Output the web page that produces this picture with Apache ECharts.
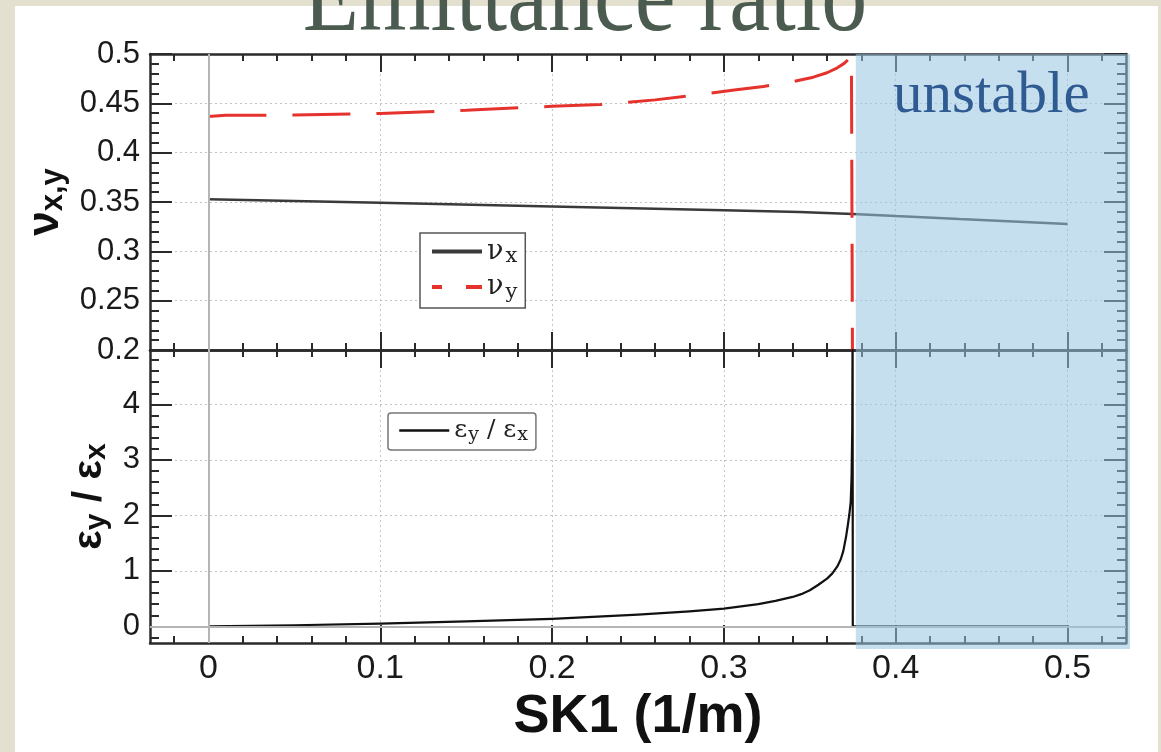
<!DOCTYPE html>
<html><head><meta charset="utf-8">
<script src="https://cdn.jsdelivr.net/npm/echarts@6/dist/echarts.min.js"></script>
<style>
html,body{margin:0;padding:0;width:1161px;height:752px;overflow:hidden;background:#e3e0cf;}
#panel{position:absolute;left:15px;top:6px;width:1143px;height:746px;background:#fff;}
#chart{position:absolute;left:0;top:0;width:1161px;height:752px;}
</style></head><body>
<div id="panel"></div><div id="chart"></div>
<script>
// ---------- data ----------
const X_MIN = -0.034, X_MAX = 0.534;
const xMajorTicks = [0, 0.1, 0.2, 0.3, 0.4, 0.5];
const xMinorTicks = [-0.02, 0.02, 0.04, 0.06, 0.08, 0.12, 0.14, 0.16, 0.18, 0.22, 0.24, 0.26, 0.28,
  0.32, 0.34, 0.36, 0.38, 0.42, 0.44, 0.46, 0.48, 0.52];
const yTopMin = 0.2, yTopMax = 0.5;
const yTopMajorTicks = [0.2, 0.25, 0.3, 0.35, 0.4, 0.45, 0.5];
const yTopMinorTicks = [0.21, 0.22, 0.23, 0.24, 0.26, 0.27, 0.28, 0.29, 0.31, 0.32, 0.33, 0.34,
  0.36, 0.37, 0.38, 0.39, 0.41, 0.42, 0.43, 0.44, 0.46, 0.47, 0.48, 0.49];
const yBotMin = -0.3, yBotMax = 4.98;
const yBotMajorTicks = [0, 1, 2, 3, 4];
const yBotMinorTicks = [-0.2, 0.2, 0.4, 0.6, 0.8, 1.2, 1.4, 1.6, 1.8, 2.2, 2.4, 2.6, 2.8,
  3.2, 3.4, 3.6, 3.8, 4.2, 4.4, 4.6, 4.8];

const sk1NuX = [0, 0.1, 0.2, 0.3, 0.344, 0.375, 0.4, 0.437, 0.478, 0.5];
const nuX    = [0.3527, 0.3492, 0.3455, 0.3417, 0.3398, 0.3378, 0.3357, 0.3327, 0.3296, 0.3276];

const sk1NuY = [0, 0.01, 0.05, 0.1, 0.15, 0.2, 0.228, 0.26, 0.286, 0.306, 0.323, 0.34, 0.352, 0.36, 0.366, 0.37, 0.3725, 0.3742, 0.375, 0.375];
const nuY    = [0.4367, 0.4378, 0.4382, 0.4398, 0.443, 0.447, 0.4488, 0.4535, 0.459, 0.4635, 0.467, 0.472, 0.4765, 0.481, 0.486, 0.4905, 0.4945, 0.4985, 0.5, 0.1];

const sk1Eps = [0, 0.05, 0.1, 0.15, 0.2, 0.25, 0.28, 0.3, 0.32, 0.33, 0.34, 0.345, 0.35, 0.355, 0.36, 0.363, 0.366, 0.368, 0.3695, 0.371, 0.372, 0.373, 0.3738, 0.3743, 0.3747, 0.3749, 0.375, 0.4, 0.45, 0.5];
const epsRatio = [0, 0.02, 0.05, 0.09, 0.135, 0.21, 0.27, 0.32, 0.40, 0.46, 0.53, 0.58, 0.65, 0.75, 0.86, 0.95, 1.08, 1.21, 1.36, 1.6, 1.8, 2.02, 2.25, 2.7, 3.6, 5.6, 0, 0, 0, 0];

const unstableFrom = 0.375;

const zip = (a, b) => a.map((v, i) => [v, b[i]]);

// ---------- styles ----------
const AX = '#2a2a2a';
const gridLine = { show: true, lineStyle: { color: '#c4c4c4', width: 1, type: [2, 3] } };
const sans = 'Liberation Sans';

function xAx(grid, pos, major, opts) {
  return Object.assign({
    type: 'value', gridIndex: grid, position: pos, min: X_MIN, max: X_MAX,
    axisLine: { show: major, onZero: false, lineStyle: { color: AX, width: 2.5 } },
    axisTick: { show: true, inside: true, length: major ? 18 : 7,
      customValues: major ? xMajorTicks : xMinorTicks, lineStyle: { color: AX, width: 2 } },
    axisLabel: { show: false, customValues: major ? xMajorTicks : xMinorTicks },
    splitLine: { show: false }
  }, opts || {});
}
function yAx(grid, pos, major, majT, minT, mn, mx, opts) {
  return Object.assign({
    type: 'value', gridIndex: grid, position: pos, min: mn, max: mx,
    axisLine: { show: major, onZero: false, lineStyle: { color: AX, width: 2.5 } },
    axisTick: { show: true, inside: true, length: major ? 22 : 9,
      customValues: major ? majT : minT, lineStyle: { color: AX, width: 2 } },
    axisLabel: { show: false, customValues: major ? majT : minT },
    splitLine: { show: false }
  }, opts || {});
}

const xLabelStyle = { show: true, customValues: xMajorTicks, color: '#1a1a1a', fontFamily: sans, fontSize: 34, margin: 9 };
const noSymbol = { color: 'transparent', borderColor: 'transparent', borderWidth: 0, opacity: 0 };

const option = {
  animation: false,
  grid: [
    { left: 150, top: 54, width: 976, height: 296 },
    { left: 150, top: 350, width: 976, height: 293 }
  ],
  xAxis: [
    xAx(0, 'bottom', true, { splitLine: gridLine }),
    xAx(0, 'bottom', false),
    xAx(0, 'top', true),
    xAx(0, 'top', false),
    xAx(1, 'bottom', true, {
      splitLine: gridLine, axisLabel: xLabelStyle,
      name: 'SK1 (1/m)', nameLocation: 'middle', nameGap: 47,
      nameTextStyle: { fontFamily: sans, fontWeight: 'bold', fontSize: 54, color: '#111' }
    }),
    xAx(1, 'bottom', false),
    xAx(1, 'top', true),
    xAx(1, 'top', false)
  ],
  yAxis: [
    yAx(0, 'left', true, yTopMajorTicks, yTopMinorTicks, yTopMin, yTopMax, {
      splitLine: gridLine,
      axisLabel: { show: true, customValues: yTopMajorTicks, color: '#1a1a1a', fontFamily: sans, fontSize: 31, margin: 10 },
      name: '{n|ν}{s|x,y}', nameLocation: 'middle', nameGap: 80, nameRotate: 90,
      nameTextStyle: { rich: {
        n: { fontFamily: sans, fontWeight: 'bold', fontSize: 44, color: '#111' },
        s: { fontFamily: sans, fontWeight: 'bold', fontSize: 31, color: '#111', padding: [14, 0, 0, 0] }
      } }
    }),
    yAx(0, 'left', false, yTopMajorTicks, yTopMinorTicks, yTopMin, yTopMax),
    yAx(0, 'right', true, yTopMajorTicks, yTopMinorTicks, yTopMin, yTopMax),
    yAx(0, 'right', false, yTopMajorTicks, yTopMinorTicks, yTopMin, yTopMax),
    yAx(1, 'left', true, yBotMajorTicks, yBotMinorTicks, yBotMin, yBotMax, {
      splitLine: gridLine,
      axisLabel: { show: true, customValues: yBotMajorTicks, color: '#1a1a1a', fontFamily: sans, fontSize: 31, margin: 10 },
      name: '{n|ε}{s|y}{n| / ε}{s|x}', nameLocation: 'middle', nameGap: 36, nameRotate: 90,
      nameTextStyle: { rich: {
        n: { fontFamily: sans, fontWeight: 'bold', fontSize: 41, color: '#111' },
        s: { fontFamily: sans, fontWeight: 'bold', fontSize: 30, color: '#111', padding: [14, 0, 0, 0] }
      } }
    }),
    yAx(1, 'left', false, yBotMajorTicks, yBotMinorTicks, yBotMin, yBotMax),
    yAx(1, 'right', true, yBotMajorTicks, yBotMinorTicks, yBotMin, yBotMax),
    yAx(1, 'right', false, yBotMajorTicks, yBotMinorTicks, yBotMin, yBotMax)
  ],
  legend: [
    {
      data: ['νx', { name: 'νy', lineStyle: { type: [10, 24, 16, 0] } }],
      left: 420, top: 233, orient: 'vertical', itemWidth: 50, itemHeight: 14, itemGap: 6,
      padding: [5, 8, 5, 10], backgroundColor: '#fff', borderColor: '#555', borderWidth: 1.5,
      lineStyle: { width: 4 }, itemStyle: noSymbol,
      formatter: n => n === 'νx' ? '{n|ν}{s|x}' : '{n|ν}{s|y}',
      textStyle: { rich: {
        n: { fontFamily: 'DejaVu Serif', fontSize: 27, color: '#222' },
        s: { fontFamily: 'DejaVu Serif', fontSize: 21, color: '#222', padding: [11, 0, 0, 2] }
      } }
    },
    {
      data: ['εy/εx'],
      left: 388, top: 413, orient: 'vertical', itemWidth: 50, itemHeight: 14,
      padding: [5, 8, 5, 10], backgroundColor: '#fff', borderColor: '#777', borderWidth: 1.5, borderRadius: 3,
      lineStyle: { width: 2.5 }, itemStyle: noSymbol,
      formatter: () => '{n|ε}{s|y}{n| / ε}{s|x}',
      textStyle: { rich: {
        n: { fontFamily: 'DejaVu Serif', fontSize: 25, color: '#222' },
        s: { fontFamily: 'DejaVu Serif', fontSize: 19, color: '#222', padding: [10, 0, 0, 1] }
      } }
    }
  ],
  series: [
    {
      name: 'νx', type: 'line', xAxisIndex: 0, yAxisIndex: 0, data: zip(sk1NuX, nuX),
      symbol: 'none', lineStyle: { color: '#3a3a3a', width: 2.5 }, itemStyle: { color: '#3a3a3a' },
      markLine: { silent: true, symbol: 'none', label: { show: false },
        lineStyle: { color: '#b5b5b5', width: 2, type: 'solid' }, data: [{ xAxis: 0 }] }
    },
    {
      name: 'νy', type: 'line', xAxisIndex: 0, yAxisIndex: 0, data: zip(sk1NuY, nuY),
      symbol: 'none', lineStyle: { color: '#e5322d', width: 3, type: [58, 26] }, itemStyle: { color: '#e5322d' }
    },
    {
      name: 'εy/εx', type: 'line', xAxisIndex: 4, yAxisIndex: 4, data: zip(sk1Eps, epsRatio),
      symbol: 'none',
      lineStyle: { color: '#111', width: 2.2, join: 'round' }, itemStyle: { color: '#111' },
      markLine: { silent: true, symbol: 'none', label: { show: false },
        lineStyle: { color: '#b5b5b5', width: 2, type: 'solid' }, data: [{ xAxis: 0 }, { yAxis: 0 }] }
    }
  ]
};

const chart = echarts.init(document.getElementById('chart'), null, { renderer: 'canvas' });
chart.setOption(option);

// overlay annotations placed through the axes' own scale
const xs = chart.convertToPixel({ xAxisIndex: 0 }, unstableFrom);
const xe = chart.convertToPixel({ xAxisIndex: 0 }, X_MAX);
const yt = chart.convertToPixel({ yAxisIndex: 0 }, yTopMax);
const yb = chart.convertToPixel({ yAxisIndex: 4 }, yBotMin);
chart.setOption({
  graphic: [
    { type: 'text', z: 100, x: 585, y: 2, scaleY: 1.15,
      style: { text: 'Emittance ratio', font: '92px "Liberation Serif"', fill: '#4b5b50',
        textAlign: 'center', verticalAlign: 'middle' } },
    { type: 'rect', z: 100, shape: { x: xs + 3, y: yt, width: xe - xs + 1, height: yb - yt + 6 },
      style: { fill: 'rgba(150,196,224,0.55)' } },
    { type: 'text', z: 101, x: 893, y: 96,
      style: { text: 'unstable', font: '59px "Liberation Serif"', fill: '#2f5a92',
        textAlign: 'left', verticalAlign: 'middle' } }
  ]
});
</script></body></html>
